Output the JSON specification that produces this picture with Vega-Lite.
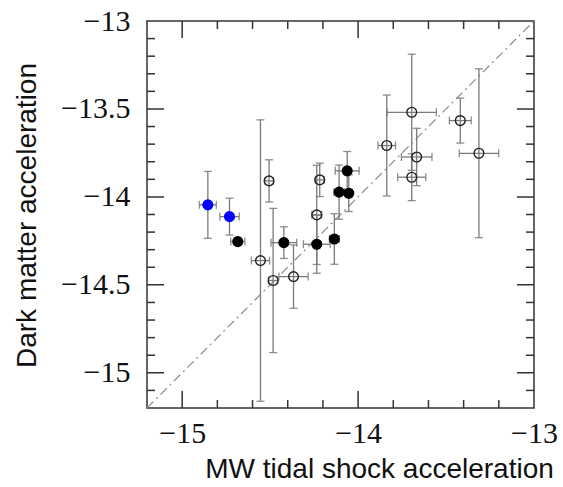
{
  "$schema": "https://vega.github.io/schema/vega-lite/v6.json",
  "width": 387,
  "height": 387,
  "autosize": "none",
  "padding": {"left": 147, "top": 21, "right": 29, "bottom": 79},
  "background": "white",
  "config": {
    "view": {"stroke": "#333", "strokeWidth": 1.5},
    "axis": {"grid": false, "domain": false, "labelFont": "Liberation Serif", "labelFontSize": 30, "labelColor": "#111", "titleFont": "Liberation Sans", "titleFontSize": 28, "titleFontWeight": "normal", "titleColor": "#111", "labelFlush": false, "labelOverlap": false}
  },
  "datasets": {
    "pts": [
      {"g": "blue", "x": -14.854, "y": -14.045, "xlo": -14.902, "xhi": -14.806, "ylo": -14.235, "yhi": -13.855},
      {"g": "blue", "x": -14.731, "y": -14.112, "xlo": -14.786, "xhi": -14.676, "ylo": -14.217, "yhi": -14.007},
      {"g": "filled", "x": -14.684, "y": -14.254, "xlo": -14.724, "xhi": -14.644, "ylo": -14.274, "yhi": -14.234},
      {"g": "open", "x": -14.555, "y": -14.362, "xlo": -14.607, "xhi": -14.503, "ylo": -15.162, "yhi": -13.562},
      {"g": "open", "x": -14.506, "y": -13.909, "xlo": -14.53, "xhi": -14.482, "ylo": -14.029, "yhi": -13.789},
      {"g": "open", "x": -14.483, "y": -14.475, "xlo": -14.509, "xhi": -14.457, "ylo": -14.885, "yhi": -14.065},
      {"g": "filled", "x": -14.422, "y": -14.26, "xlo": -14.495, "xhi": -14.349, "ylo": -14.35, "yhi": -14.17},
      {"g": "open", "x": -14.367, "y": -14.453, "xlo": -14.45, "xhi": -14.284, "ylo": -14.633, "yhi": -14.273},
      {"g": "open", "x": -14.218, "y": -13.903, "xlo": -14.243, "xhi": -14.193, "ylo": -13.998, "yhi": -13.808},
      {"g": "open", "x": -14.235, "y": -14.102, "xlo": -14.263, "xhi": -14.207, "ylo": -14.384, "yhi": -13.82},
      {"g": "filled", "x": -14.235, "y": -14.269, "xlo": -14.311, "xhi": -14.159, "ylo": -14.434, "yhi": -14.104},
      {"g": "filled", "x": -14.135, "y": -14.239, "xlo": -14.163, "xhi": -14.107, "ylo": -14.383, "yhi": -14.095},
      {"g": "filled", "x": -14.108, "y": -13.973, "xlo": -14.138, "xhi": -14.078, "ylo": -14.127, "yhi": -13.819},
      {"g": "filled", "x": -14.053, "y": -13.979, "xlo": -14.073, "xhi": -14.033, "ylo": -14.083, "yhi": -13.875},
      {"g": "filled", "x": -14.062, "y": -13.852, "xlo": -14.13, "xhi": -13.994, "ylo": -13.962, "yhi": -13.742},
      {"g": "open", "x": -13.837, "y": -13.708, "xlo": -13.887, "xhi": -13.787, "ylo": -13.995, "yhi": -13.421},
      {"g": "open", "x": -13.695, "y": -13.519, "xlo": -13.835, "xhi": -13.555, "ylo": -13.849, "yhi": -13.189},
      {"g": "open", "x": -13.667, "y": -13.773, "xlo": -13.754, "xhi": -13.58, "ylo": -13.936, "yhi": -13.61},
      {"g": "open", "x": -13.695, "y": -13.888, "xlo": -13.775, "xhi": -13.615, "ylo": -14.021, "yhi": -13.755},
      {"g": "open", "x": -13.419, "y": -13.566, "xlo": -13.481, "xhi": -13.357, "ylo": -13.694, "yhi": -13.438},
      {"g": "open", "x": -13.313, "y": -13.752, "xlo": -13.425, "xhi": -13.201, "ylo": -14.232, "yhi": -13.272}
    ],
    "diag": [{"d": -15.2}, {"d": -13}],
    "xt": [
      {"v": -15, "k": "major"}, {"v": -14.8, "k": "minor"}, {"v": -14.6, "k": "minor"}, {"v": -14.4, "k": "minor"}, {"v": -14.2, "k": "minor"},
      {"v": -14, "k": "major"}, {"v": -13.8, "k": "minor"}, {"v": -13.6, "k": "minor"}, {"v": -13.4, "k": "minor"}, {"v": -13.2, "k": "minor"}
    ],
    "yt": [
      {"v": -15.1, "k": "minor"}, {"v": -15, "k": "major"}, {"v": -14.9, "k": "minor"}, {"v": -14.8, "k": "minor"}, {"v": -14.7, "k": "minor"},
      {"v": -14.6, "k": "minor"}, {"v": -14.5, "k": "major"}, {"v": -14.4, "k": "minor"}, {"v": -14.3, "k": "minor"}, {"v": -14.2, "k": "minor"},
      {"v": -14.1, "k": "minor"}, {"v": -14, "k": "major"}, {"v": -13.9, "k": "minor"}, {"v": -13.8, "k": "minor"}, {"v": -13.7, "k": "minor"},
      {"v": -13.6, "k": "minor"}, {"v": -13.5, "k": "major"}, {"v": -13.4, "k": "minor"}, {"v": -13.3, "k": "minor"}, {"v": -13.2, "k": "minor"},
      {"v": -13.1, "k": "minor"}
    ]
  },
  "layer": [
    {
      "data": {"name": "diag"},
      "mark": {"type": "line", "color": "#8a8a8a", "strokeWidth": 1.2, "strokeDash": [9, 4, 2, 4], "clip": true},
      "encoding": {
        "x": {"field": "d", "type": "quantitative", "scale": {"domain": [-15.2, -13], "nice": false, "zero": false},
          "axis": {"orient": "bottom", "values": [-15, -14, -13], "ticks": false, "labelBaseline": "alphabetic", "labelPadding": 34, "format": "~g",
            "title": "MW tidal shock acceleration", "titleX": 232, "titleY": 69, "titleBaseline": "alphabetic", "titleAlign": "center", "titleAnchor": null}},
        "y": {"field": "d", "type": "quantitative", "scale": {"domain": [-15.2, -13], "nice": false, "zero": false},
          "axis": {"orient": "left", "values": [-15, -14.5, -14, -13.5, -13], "ticks": false, "labelPadding": 17, "labelBaseline": "middle", "format": "~g",
            "title": "Dark matter acceleration", "titleX": -112, "titleY": 194, "titleAngle": 270, "titleBaseline": "alphabetic", "titleAlign": "center", "titleAnchor": null}}
      }
    },
    {
      "data": {"name": "xt"},
      "transform": [{"filter": "datum.k == 'major'"}],
      "mark": {"type": "tick", "orient": "vertical", "size": 34, "thickness": 1.5, "color": "#333", "opacity": 1, "clip": true},
      "encoding": {
        "x": {"field": "v", "type": "quantitative", "scale": {"domain": [-15.2, -13], "nice": false, "zero": false}},
        "y": {"datum": -15.2, "type": "quantitative", "scale": {"domain": [-15.2, -13], "nice": false, "zero": false}}
      }
    },
    {
      "data": {"name": "xt"},
      "transform": [{"filter": "datum.k == 'minor'"}],
      "mark": {"type": "tick", "orient": "vertical", "size": 16, "thickness": 1.5, "color": "#333", "opacity": 1, "clip": true},
      "encoding": {
        "x": {"field": "v", "type": "quantitative", "scale": {"domain": [-15.2, -13], "nice": false, "zero": false}},
        "y": {"datum": -15.2, "type": "quantitative", "scale": {"domain": [-15.2, -13], "nice": false, "zero": false}}
      }
    },
    {
      "data": {"name": "xt"},
      "transform": [{"filter": "datum.k == 'major'"}],
      "mark": {"type": "tick", "orient": "vertical", "size": 34, "thickness": 1.5, "color": "#333", "opacity": 1, "clip": true},
      "encoding": {
        "x": {"field": "v", "type": "quantitative", "scale": {"domain": [-15.2, -13], "nice": false, "zero": false}},
        "y": {"datum": -13, "type": "quantitative", "scale": {"domain": [-15.2, -13], "nice": false, "zero": false}}
      }
    },
    {
      "data": {"name": "xt"},
      "transform": [{"filter": "datum.k == 'minor'"}],
      "mark": {"type": "tick", "orient": "vertical", "size": 16, "thickness": 1.5, "color": "#333", "opacity": 1, "clip": true},
      "encoding": {
        "x": {"field": "v", "type": "quantitative", "scale": {"domain": [-15.2, -13], "nice": false, "zero": false}},
        "y": {"datum": -13, "type": "quantitative", "scale": {"domain": [-15.2, -13], "nice": false, "zero": false}}
      }
    },
    {
      "data": {"name": "yt"},
      "transform": [{"filter": "datum.k == 'major'"}],
      "mark": {"type": "tick", "orient": "horizontal", "size": 34, "thickness": 1.5, "color": "#333", "opacity": 1, "clip": true},
      "encoding": {
        "y": {"field": "v", "type": "quantitative", "scale": {"domain": [-15.2, -13], "nice": false, "zero": false}},
        "x": {"datum": -15.2, "type": "quantitative", "scale": {"domain": [-15.2, -13], "nice": false, "zero": false}}
      }
    },
    {
      "data": {"name": "yt"},
      "transform": [{"filter": "datum.k == 'minor'"}],
      "mark": {"type": "tick", "orient": "horizontal", "size": 16, "thickness": 1.5, "color": "#333", "opacity": 1, "clip": true},
      "encoding": {
        "y": {"field": "v", "type": "quantitative", "scale": {"domain": [-15.2, -13], "nice": false, "zero": false}},
        "x": {"datum": -15.2, "type": "quantitative", "scale": {"domain": [-15.2, -13], "nice": false, "zero": false}}
      }
    },
    {
      "data": {"name": "yt"},
      "transform": [{"filter": "datum.k == 'major'"}],
      "mark": {"type": "tick", "orient": "horizontal", "size": 34, "thickness": 1.5, "color": "#333", "opacity": 1, "clip": true},
      "encoding": {
        "y": {"field": "v", "type": "quantitative", "scale": {"domain": [-15.2, -13], "nice": false, "zero": false}},
        "x": {"datum": -13, "type": "quantitative", "scale": {"domain": [-15.2, -13], "nice": false, "zero": false}}
      }
    },
    {
      "data": {"name": "yt"},
      "transform": [{"filter": "datum.k == 'minor'"}],
      "mark": {"type": "tick", "orient": "horizontal", "size": 16, "thickness": 1.5, "color": "#333", "opacity": 1, "clip": true},
      "encoding": {
        "y": {"field": "v", "type": "quantitative", "scale": {"domain": [-15.2, -13], "nice": false, "zero": false}},
        "x": {"datum": -13, "type": "quantitative", "scale": {"domain": [-15.2, -13], "nice": false, "zero": false}}
      }
    },
    {
      "data": {"name": "pts"},
      "mark": {"type": "rule", "color": "#7a7a7a", "strokeWidth": 1.3},
      "encoding": {
        "x": {"field": "xlo", "type": "quantitative", "scale": {"domain": [-15.2, -13], "nice": false, "zero": false}},
        "x2": {"field": "xhi"},
        "y": {"field": "y", "type": "quantitative", "scale": {"domain": [-15.2, -13], "nice": false, "zero": false}}
      }
    },
    {
      "data": {"name": "pts"},
      "mark": {"type": "rule", "color": "#7a7a7a", "strokeWidth": 1.3},
      "encoding": {
        "x": {"field": "x", "type": "quantitative", "scale": {"domain": [-15.2, -13], "nice": false, "zero": false}},
        "y": {"field": "ylo", "type": "quantitative", "scale": {"domain": [-15.2, -13], "nice": false, "zero": false}},
        "y2": {"field": "yhi"}
      }
    },
    {
      "data": {"name": "pts"},
      "mark": {"type": "tick", "orient": "vertical", "color": "#7a7a7a", "thickness": 1.3, "size": 8, "opacity": 0.85},
      "encoding": {
        "x": {"field": "xlo", "type": "quantitative", "scale": {"domain": [-15.2, -13], "nice": false, "zero": false}},
        "y": {"field": "y", "type": "quantitative", "scale": {"domain": [-15.2, -13], "nice": false, "zero": false}}
      }
    },
    {
      "data": {"name": "pts"},
      "mark": {"type": "tick", "orient": "vertical", "color": "#7a7a7a", "thickness": 1.3, "size": 8, "opacity": 0.85},
      "encoding": {
        "x": {"field": "xhi", "type": "quantitative", "scale": {"domain": [-15.2, -13], "nice": false, "zero": false}},
        "y": {"field": "y", "type": "quantitative", "scale": {"domain": [-15.2, -13], "nice": false, "zero": false}}
      }
    },
    {
      "data": {"name": "pts"},
      "mark": {"type": "tick", "orient": "horizontal", "color": "#7a7a7a", "thickness": 1.3, "size": 8, "opacity": 0.85},
      "encoding": {
        "x": {"field": "x", "type": "quantitative", "scale": {"domain": [-15.2, -13], "nice": false, "zero": false}},
        "y": {"field": "ylo", "type": "quantitative", "scale": {"domain": [-15.2, -13], "nice": false, "zero": false}}
      }
    },
    {
      "data": {"name": "pts"},
      "mark": {"type": "tick", "orient": "horizontal", "color": "#7a7a7a", "thickness": 1.3, "size": 8, "opacity": 0.85},
      "encoding": {
        "x": {"field": "x", "type": "quantitative", "scale": {"domain": [-15.2, -13], "nice": false, "zero": false}},
        "y": {"field": "yhi", "type": "quantitative", "scale": {"domain": [-15.2, -13], "nice": false, "zero": false}}
      }
    },
    {
      "data": {"name": "pts"},
      "mark": {"type": "point", "shape": "circle", "strokeWidth": 1.4, "opacity": 1},
      "encoding": {
        "x": {"field": "x", "type": "quantitative", "scale": {"domain": [-15.2, -13], "nice": false, "zero": false}},
        "y": {"field": "y", "type": "quantitative", "scale": {"domain": [-15.2, -13], "nice": false, "zero": false}},
        "fill": {"field": "g", "type": "nominal", "scale": {"domain": ["blue", "filled", "open"], "range": ["#0000ff", "#000000", "transparent"]}, "legend": null},
        "stroke": {"field": "g", "type": "nominal", "scale": {"domain": ["blue", "filled", "open"], "range": ["#0000ff", "#000000", "#222222"]}, "legend": null},
        "size": {"field": "g", "type": "nominal", "scale": {"domain": ["blue", "filled", "open"], "range": [95, 95, 70]}, "legend": null}
      }
    }
  ]
}
